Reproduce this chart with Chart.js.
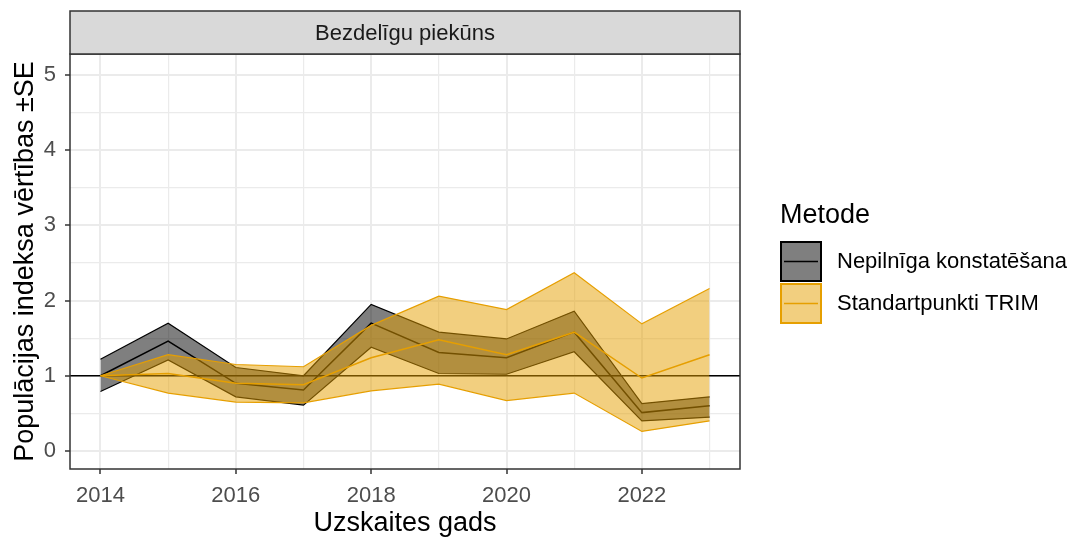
<!DOCTYPE html>
<html>
<head>
<meta charset="utf-8">
<script src="https://cdn.jsdelivr.net/npm/chart.js@4.4.1/dist/chart.umd.min.js"></script>
<style>
  body { margin: 0; background: #fff; }
  #wrap { width: 1082px; height: 539px; }
</style>
</head>
<body>
<div id="wrap"><canvas id="myChart" width="1082" height="539"></canvas></div>
<script>
const years = [2014, 2015, 2016, 2017, 2018, 2019, 2020, 2021, 2022, 2023];

// Nepilnīga konstatēšana
const nepMean = [1.00, 1.46, 0.90, 0.81, 1.70, 1.31, 1.24, 1.58, 0.51, 0.60];
const nepLower = [0.79, 1.21, 0.72, 0.61, 1.38, 1.03, 1.02, 1.32, 0.40, 0.45];
const nepUpper = [1.22, 1.70, 1.11, 1.00, 1.95, 1.58, 1.49, 1.86, 0.63, 0.72];

// Standartpunkti TRIM
const trimMean = [1.00, 1.03, 0.90, 0.88, 1.24, 1.48, 1.28, 1.58, 0.97, 1.28];
const trimLower = [1.00, 0.77, 0.65, 0.64, 0.80, 0.89, 0.67, 0.77, 0.26, 0.40];
const trimUpper = [1.00, 1.28, 1.15, 1.12, 1.67, 2.06, 1.88, 2.37, 1.69, 2.16];

const xTicks = years;
const yTicks = [0, 0.5, 1, 1.5, 2, 2.5, 3, 3.5, 4, 4.5, 5];

const stripTitle = "Bezdelīgu piekūns";
const xTitle = "Uzskaites gads";
const yTitle = "Populācijas indeksa vērtības ±SE";
const legendTitle = "Metode";
const legendLabels = ["Nepilnīga konstatēšana", "Standartpunkti TRIM"];

const FONT = "'Liberation Sans', Arial, sans-serif";
const ORANGE = "#E69F00";
const ORANGE_FILL = "rgba(230,159,0,0.5)";
const GREY_FILL = "rgba(0,0,0,0.5)";

function pts(vals) {
  return years.map((y, i) => ({ x: y, y: vals[i] }));
}

// ggplot-ish extras: strip, border, reference line, titles, legend
const decor = {
  id: "decor",
  beforeDatasetsDraw(chart) {
    const { ctx, chartArea: a, scales } = chart;
    const y1 = scales.y.getPixelForValue(1);
    ctx.save();
    ctx.strokeStyle = "#000";
    ctx.lineWidth = 1.5;
    ctx.beginPath();
    ctx.moveTo(a.left, y1);
    ctx.lineTo(a.right, y1);
    ctx.stroke();
    ctx.restore();
  },
  afterDraw(chart) {
    const { ctx, chartArea: a } = chart;
    ctx.save();
    // panel border
    ctx.strokeStyle = "#333333";
    ctx.lineWidth = 1.5;
    ctx.strokeRect(a.left, a.top, a.right - a.left, a.bottom - a.top);
    // strip
    ctx.fillStyle = "#D9D9D9";
    ctx.fillRect(a.left, 11, a.right - a.left, a.top - 11);
    ctx.strokeRect(a.left, 11, a.right - a.left, a.top - 11);
    ctx.fillStyle = "#1A1A1A";
    ctx.font = "22px " + FONT;
    ctx.textAlign = "center";
    ctx.textBaseline = "middle";
    ctx.fillText(stripTitle, (a.left + a.right) / 2, (11 + a.top) / 2 + 1);

    // axis titles
    ctx.fillStyle = "#000";
    ctx.font = "27px " + FONT;
    ctx.textBaseline = "alphabetic";
    ctx.fillText(xTitle, (a.left + a.right) / 2, 531);
    ctx.save();
    ctx.translate(33, (a.top + a.bottom) / 2);
    ctx.rotate(-Math.PI / 2);
    ctx.fillText(yTitle, 0, 0);
    ctx.restore();

    // legend
    ctx.textAlign = "left";
    ctx.fillText(legendTitle, 780, 223);
    const keys = [
      { y: 242, fill: "#7F7F7F", line: "#000" },
      { y: 284, fill: "#F2CF7F", line: ORANGE }
    ];
    ctx.font = "22px " + FONT;
    keys.forEach((k, i) => {
      ctx.fillStyle = k.fill;
      ctx.fillRect(781, k.y, 40, 39);
      ctx.strokeStyle = k.line;
      ctx.lineWidth = 2;
      ctx.strokeRect(781, k.y, 40, 39);
      ctx.lineWidth = 1.5;
      ctx.beginPath();
      ctx.moveTo(784, k.y + 19.5);
      ctx.lineTo(818, k.y + 19.5);
      ctx.stroke();
      ctx.fillStyle = "#000";
      ctx.textBaseline = "middle";
      ctx.fillText(legendLabels[i], 837, k.y + 20);
    });
    ctx.restore();
  }
};

const isMajorX = (v) => v % 2 === 0;
const isMajorY = (v) => Number.isInteger(v);

new Chart(document.getElementById("myChart"), {
  type: "line",
  data: {
    datasets: [
      { label: "nepLower", data: pts(nepLower), borderColor: "#000", borderWidth: 1.2,
        backgroundColor: GREY_FILL, fill: "+1", order: 6 },
      { label: "nepUpper", data: pts(nepUpper), borderColor: "#000", borderWidth: 1.2,
        fill: false, order: 5 },
      { label: legendLabels[0], data: pts(nepMean), borderColor: "#000", borderWidth: 1.5,
        fill: false, order: 4 },
      { label: "trimLower", data: pts(trimLower), borderColor: ORANGE, borderWidth: 1.2,
        backgroundColor: ORANGE_FILL, fill: "+1", order: 3 },
      { label: "trimUpper", data: pts(trimUpper), borderColor: ORANGE, borderWidth: 1.2,
        fill: false, order: 2 },
      { label: legendLabels[1], data: pts(trimMean), borderColor: ORANGE, borderWidth: 1.5,
        fill: false, order: 1 }
    ]
  },
  options: {
    responsive: false,
    animation: false,
    elements: { point: { radius: 0 }, line: { tension: 0 } },
    layout: { padding: { left: 0, top: 54, right: 342, bottom: 0 } },
    plugins: { legend: { display: false }, tooltip: { enabled: false } },
    scales: {
      x: {
        type: "linear",
        min: 2013.55,
        max: 2023.45,
        afterBuildTicks: (s) => { s.ticks = xTicks.map((v) => ({ value: v })); },
        afterFit: (s) => { s.height = 70; },
        border: { display: false },
        grid: {
          color: "#EBEBEB",
          lineWidth: (c) => (c.tick && isMajorX(c.tick.value) ? 2 : 1.2),
          tickLength: 5,
          tickColor: (c) => (c.tick && isMajorX(c.tick.value) ? "#333333" : "rgba(0,0,0,0)"),
          tickWidth: 1.5
        },
        ticks: {
          autoSkip: false,
          maxRotation: 0,
          padding: 9,
          color: "#4D4D4D",
          font: { family: FONT, size: 22 },
          callback: (v) => (isMajorX(v) ? String(v) : "")
        }
      },
      y: {
        type: "linear",
        min: -0.24,
        max: 5.28,
        afterBuildTicks: (s) => { s.ticks = yTicks.map((v) => ({ value: v })); },
        afterFit: (s) => { s.width = 70; },
        border: { display: false },
        grid: {
          color: "#EBEBEB",
          lineWidth: (c) => (c.tick && isMajorY(c.tick.value) ? 2 : 1.2),
          tickLength: 5,
          tickColor: (c) => (c.tick && isMajorY(c.tick.value) ? "#333333" : "rgba(0,0,0,0)"),
          tickWidth: 1.5
        },
        ticks: {
          autoSkip: false,
          padding: 9,
          color: "#4D4D4D",
          font: { family: FONT, size: 22 },
          callback: (v) => (isMajorY(v) ? String(v) : "")
        }
      }
    }
  },
  plugins: [decor]
});
</script>
</body>
</html>
